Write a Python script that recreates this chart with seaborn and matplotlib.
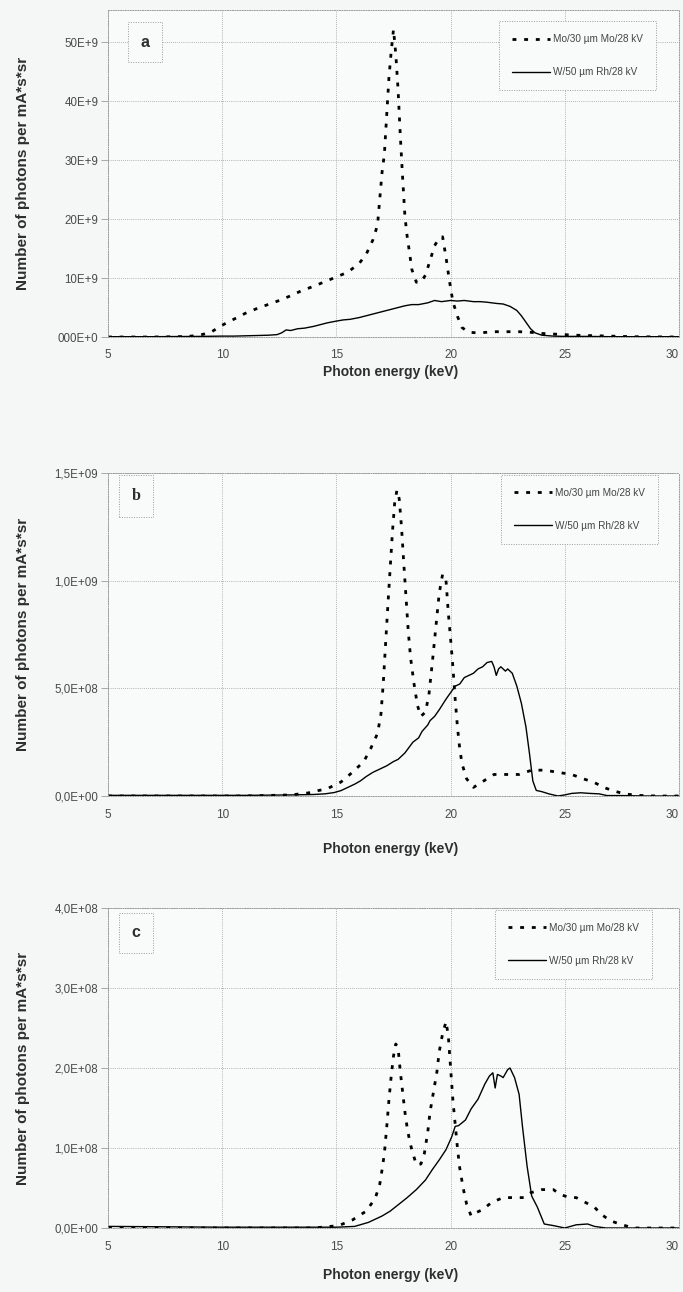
import numpy as np
import pandas as pd
import matplotlib
matplotlib.use("Agg")
import matplotlib.pyplot as plt
import matplotlib.transforms as mtransforms
import seaborn as sns

# ---------------- data ----------------
legend_labels = ["Mo/30 µm Mo/28 kV", "W/50 µm Rh/28 kV"]
panel_letters = ["a", "b", "c"]
x_ticks = [5, 10, 15, 20, 25, 30]

# panel a (values in 1e9)
a_mo_e = [5, 6, 7, 8, 8.5, 9.0, 9.5, 10.0, 10.5, 11.0, 11.5, 12.0, 12.5, 13.0, 13.5, 14.0, 14.5,
          15.0, 15.5, 16.0, 16.3, 16.6, 16.8, 16.9, 17.0, 17.1, 17.2, 17.3, 17.4, 17.5, 17.6, 17.7,
          17.8, 17.9, 18.0, 18.1, 18.2, 18.3, 18.5, 18.7, 18.9, 19.1, 19.3, 19.5, 19.65, 19.8, 19.95,
          20.1, 20.3, 20.5, 20.8, 21.2, 21.6, 22.0, 22.5, 23.0, 23.5, 24.0, 24.5, 25.0, 25.5, 26.0,
          26.5, 27.0, 27.5, 28.0, 29.0, 30.0]
a_mo_v = [0, 0, 0, 0.05, 0.1, 0.3, 0.8, 2.0, 3.0, 4.0, 4.8, 5.5, 6.2, 7.0, 7.9, 8.6, 9.4,
          10.2, 11.0, 12.5, 14.0, 16.5, 19.0, 23.5, 28.0, 31.0, 37.5, 44.0, 48.5, 52.2, 48.0, 42.0,
          34.0, 27.0, 20.5, 17.0, 14.4, 11.5, 9.3, 9.3, 10.5, 13.0, 15.5, 16.8, 17.0, 13.5, 9.5,
          6.0, 3.5, 1.6, 0.8, 0.7, 0.8, 0.9, 0.9, 0.9, 0.8, 0.6, 0.5, 0.4, 0.3, 0.25,
          0.2, 0.15, 0.1, 0.05, 0.02, 0.0]
a_w_e = [5, 6, 7, 8, 9, 10, 10.5, 11, 11.5, 12, 12.4, 12.6, 12.8, 13.0, 13.3, 13.6, 14.0, 14.3,
         14.6, 15.0, 15.3, 15.6, 16.0, 16.3, 16.6, 17.0, 17.3, 17.6, 18.0, 18.3, 18.6, 19.0, 19.3,
         19.6, 20.0, 20.3, 20.6, 21.0, 21.3, 21.6, 22.0, 22.3, 22.6, 22.9, 23.1, 23.3, 23.5, 23.7,
         24.0, 24.5, 25, 26, 27, 28, 29, 30]
a_w_v = [0.05, 0.05, 0.05, 0.08, 0.1, 0.15, 0.15, 0.2, 0.25, 0.3, 0.4, 0.7, 1.2, 1.1, 1.4, 1.5,
         1.8, 2.1, 2.4, 2.7, 2.9, 3.0, 3.3, 3.6, 3.9, 4.3, 4.6, 4.9, 5.3, 5.5, 5.5, 5.8, 6.2,
         6.0, 6.2, 6.1, 6.2, 6.0, 6.0, 5.9, 5.7, 5.6, 5.2, 4.5, 3.6, 2.5, 1.4, 0.7,
         0.3, 0.15, 0.1, 0.1, 0.05, 0.05, 0.05, 0.05]

# panel b (values in 1e9)
b_mo_e = [5, 8, 11, 13, 13.75, 14.2, 14.6, 15.2, 15.7, 16.2, 16.5, 16.8, 16.95, 17.05, 17.15,
          17.25, 17.35, 17.45, 17.55, 17.65, 17.75, 17.85, 17.95, 18.05, 18.15, 18.25, 18.4, 18.55,
          18.7, 18.9, 19.05, 19.2, 19.35, 19.5, 19.65, 19.8, 19.9, 20.0, 20.1, 20.2, 20.3, 20.4,
          20.5, 20.7, 21.0, 21.45, 21.9, 22.4, 23.0, 23.55, 24.1, 24.7, 25.3, 25.8, 26.25, 26.7,
          27.1, 27.6, 28.2, 29, 30]
b_mo_v = [0, 0, 0, 0.005, 0.014, 0.025, 0.034, 0.065, 0.11, 0.16, 0.22, 0.29, 0.38, 0.52, 0.70,
          0.88, 1.05, 1.22, 1.36, 1.42, 1.38, 1.25, 1.08, 0.92, 0.76, 0.64, 0.52, 0.42,
          0.37, 0.39, 0.47, 0.62, 0.78, 0.94, 1.03, 1.00, 0.85, 0.73, 0.60, 0.45, 0.32, 0.22,
          0.15, 0.08, 0.04, 0.07, 0.10, 0.10, 0.10, 0.12, 0.12, 0.11, 0.10, 0.08, 0.065, 0.04,
          0.025, 0.01, 0.003, 0, 0]
b_w_e = [5, 8, 11, 13, 14, 14.5, 14.9, 15.2, 15.5, 15.8, 16.05, 16.3, 16.6, 16.9, 17.2, 17.5,
         17.7, 18.0, 18.35, 18.6, 18.75, 19.0, 19.1, 19.3, 19.5, 19.8, 20.0, 20.2, 20.4, 20.6,
         20.8, 21.0, 21.2, 21.4, 21.6, 21.8, 21.9, 22.0, 22.1, 22.2, 22.4, 22.5, 22.7, 22.9,
         23.1, 23.3, 23.45, 23.6, 23.75, 24.0, 24.3, 24.7, 25.0, 25.3, 25.7, 26.1, 26.5, 26.85,
         27.5, 28.5, 30]
b_w_v = [0.003, 0.003, 0.003, 0.005, 0.007, 0.01, 0.016, 0.025, 0.04, 0.055, 0.07, 0.09, 0.11,
         0.125, 0.14, 0.16, 0.17, 0.20, 0.25, 0.27, 0.30, 0.33, 0.35, 0.37, 0.40, 0.45, 0.48,
         0.51, 0.52, 0.55, 0.56, 0.57, 0.59, 0.60, 0.62, 0.625, 0.60, 0.56, 0.59, 0.60, 0.58,
         0.59, 0.57, 0.51, 0.43, 0.32, 0.20, 0.07, 0.026, 0.02, 0.01, 0.0, 0.005, 0.012, 0.015,
         0.012, 0.01, 0.002, 0.002, 0.0, 0.0]

# panel c (values in 1e8)
c_mo_e = [5, 10, 14, 15.1, 15.7, 16.3, 16.7, 16.9, 17.0, 17.1, 17.2, 17.3, 17.4, 17.5, 17.6,
          17.7, 17.8, 17.9, 18.0, 18.1, 18.2, 18.3, 18.5, 18.7, 18.85, 19.0, 19.1, 19.25, 19.4,
          19.5, 19.65, 19.8, 19.9, 20.0, 20.1, 20.2, 20.3, 20.4, 20.55, 20.7, 20.9, 21.1, 21.4,
          21.8, 22.3, 22.8, 23.2, 23.5, 24.0, 24.5, 24.8, 25.2, 25.5, 25.9, 26.3, 26.6, 27.0,
          27.4, 28.0, 29, 30]
c_mo_v = [0, 0, 0, 0.03, 0.10, 0.21, 0.37, 0.55, 0.73, 0.93, 1.25, 1.60, 1.90, 2.15, 2.30,
          2.25, 1.95, 1.70, 1.45, 1.25, 1.10, 0.98, 0.79, 0.80, 0.93, 1.20, 1.45, 1.70, 1.95,
          2.20, 2.43, 2.58, 2.40, 2.00, 1.60, 1.30, 1.00, 0.75, 0.50, 0.30, 0.15, 0.19, 0.23,
          0.32, 0.38, 0.38, 0.38, 0.44, 0.48, 0.48, 0.42, 0.38, 0.38, 0.32, 0.26, 0.17, 0.09,
          0.05, 0.0, 0, 0]
c_w_e = [5, 10, 15, 15.8, 16.4, 17.0, 17.35, 17.75, 18.1, 18.5, 18.9, 19.2, 19.5, 19.8, 20.05,
         20.2, 20.35, 20.65, 20.9, 21.2, 21.5, 21.7, 21.85, 21.95, 22.05, 22.2, 22.3, 22.5, 22.6,
         22.8, 23.0, 23.15, 23.35, 23.55, 23.8, 24.1, 24.5, 25.0, 25.5, 26.0, 26.3, 26.8, 27.5,
         28.5, 30]
c_w_v = [0.02, 0.01, 0.01, 0.02, 0.07, 0.15, 0.21, 0.30, 0.38, 0.48, 0.60, 0.73, 0.85, 0.98,
         1.14, 1.27, 1.28, 1.35, 1.49, 1.61, 1.80, 1.90, 1.94, 1.75, 1.92, 1.90, 1.88, 1.98, 2.00,
         1.88, 1.67, 1.26, 0.77, 0.40, 0.26, 0.05, 0.03, 0.0, 0.04, 0.05, 0.02, 0.0, 0.0, 0.0, 0.0]

scales = [1e9, 1e9, 1e8]
y_ticks = [[0, 10, 20, 30, 40, 50], [0, 0.5, 1.0, 1.5], [0, 1, 2, 3, 4]]
y_ticklabels = [["000E+0", "10E+9", "20E+9", "30E+9", "40E+9", "50E+9"],
                ["0,0E+00", "5,0E+08", "1,0E+09", "1,5E+09"],
                ["0,0E+00", "1,0E+08", "2,0E+08", "3,0E+08", "4,0E+08"]]
y_max = [55.5, 1.5, 4.0]
panels = [(a_mo_e, a_mo_v, a_w_e, a_w_v), (b_mo_e, b_mo_v, b_w_e, b_w_v),
          (c_mo_e, c_mo_v, c_w_e, c_w_v)]

# ---------------- style ----------------
sns.set_theme(style="white")
plt.rcParams["font.family"] = ["Liberation Sans", "DejaVu Sans"]
BG = "#f5f6f6"
AXBG = "#f9fafa"
GRID = "#9c9c9c"
TXT = "#2e2e2e"
TICK = "#4a4a4a"
narrow = ["Liberation Sans Narrow", "Liberation Sans", "DejaVu Sans"]

W, H = 683, 1292
fig = plt.figure(figsize=(W / 100, H / 100), dpi=100, facecolor=BG)

# axes extents in pixels: (top, bottom)
ax_px = [(10, 337), (473, 796), (908, 1228)]
left_px, right_px = 108, 679
xlabel_y = [372, 849, 1275]
letter_pos = [(0.065, 0.902), (0.049, 0.929), (0.049, 0.922)]
legend_anchor = [(0.96, 0.965), (0.963, 0.994), (0.953, 0.994)]
letter_fonts = [["Liberation Sans", "DejaVu Sans"], ["Liberation Serif", "DejaVu Serif"],
                ["Liberation Sans", "DejaVu Sans"]]

for i, (mo_e, mo_v, w_e, w_v) in enumerate(panels):
    top, bot = ax_px[i]
    ax = fig.add_axes([left_px / W, 1 - bot / H, (right_px - left_px) / W, (bot - top) / H])
    ax.set_facecolor(AXBG)
    s = scales[i]
    df_mo = pd.DataFrame({"E": mo_e, "N": np.array(mo_v) * s})
    df_w = pd.DataFrame({"E": w_e, "N": np.array(w_v) * s})
    sns.lineplot(data=df_mo, x="E", y="N", ax=ax, color="black", linewidth=2.0,
                 linestyle=(0, (1.4, 2.8)), estimator=None, sort=False, legend=False)
    sns.lineplot(data=df_w, x="E", y="N", ax=ax, color="black", linewidth=1.0,
                 estimator=None, sort=False, legend=False)
    ax.set_xlim(5, 30)
    ax.set_ylim(0, y_max[i] * s)
    ax.set_xticks(x_ticks)
    ax.set_xticklabels([str(t) for t in x_ticks], fontsize=8.5, color=TICK)
    # last label sits against the right edge of the page
    last = ax.get_xticklabels()[-1]
    last.set_horizontalalignment("right")
    last.set_transform(last.get_transform() +
                       mtransforms.ScaledTranslation(2 / 100, 0, fig.dpi_scale_trans))
    ax.set_yticks([t * s for t in y_ticks[i]])
    ax.set_yticklabels(y_ticklabels[i], fontsize=8.3, color=TICK)
    ax.tick_params(axis="x", length=0, pad=9)
    ax.tick_params(axis="y", length=5, width=0.6, color=GRID, pad=2, left=True)
    ax.grid(True, color=GRID, linestyle=(0, (1, 1.5)), linewidth=0.6)
    for sp in ax.spines.values():
        sp.set_visible(True)
        sp.set_color(GRID)
        sp.set_linestyle((0, (1, 1.5)))
        sp.set_linewidth(0.7)
    ax.set_xlabel("")
    ax.set_ylabel("")

    leg = ax.legend(handles=ax.lines[:2], labels=legend_labels, loc="upper right",
                    bbox_to_anchor=legend_anchor[i], frameon=True, fancybox=False,
                    prop={"family": narrow, "size": 7.2}, handlelength=3.8,
                    handletextpad=0.3, labelspacing=2.3, borderpad=1.3,
                    borderaxespad=0.0, facecolor=AXBG, edgecolor=GRID, framealpha=1)
    leg.get_frame().set_linestyle((0, (1, 1.5)))
    leg.get_frame().set_linewidth(0.7)
    for t in leg.get_texts():
        t.set_color("#444444")

    ax.text(letter_pos[i][0], letter_pos[i][1], panel_letters[i], transform=ax.transAxes,
            ha="center", va="center", fontsize=11.5, fontweight="bold", color=TXT,
            family=letter_fonts[i],
            bbox=dict(boxstyle="square,pad=0.8", fc=AXBG, ec=GRID, ls=(0, (1, 1.5)), lw=0.7))

    fig.text(23 / W, 1 - ((top + bot) / 2) / H, "Number of photons per mA*s*sr",
             rotation=90, ha="center", va="center", fontsize=11, fontweight="bold", color=TXT)
    fig.text(((left_px + right_px) / 2 - 3) / W, 1 - xlabel_y[i] / H, "Photon energy (keV)",
             ha="center", va="center", fontsize=10, fontweight="bold", color=TXT)

fig.savefig("out.png", dpi=100, facecolor=BG)
